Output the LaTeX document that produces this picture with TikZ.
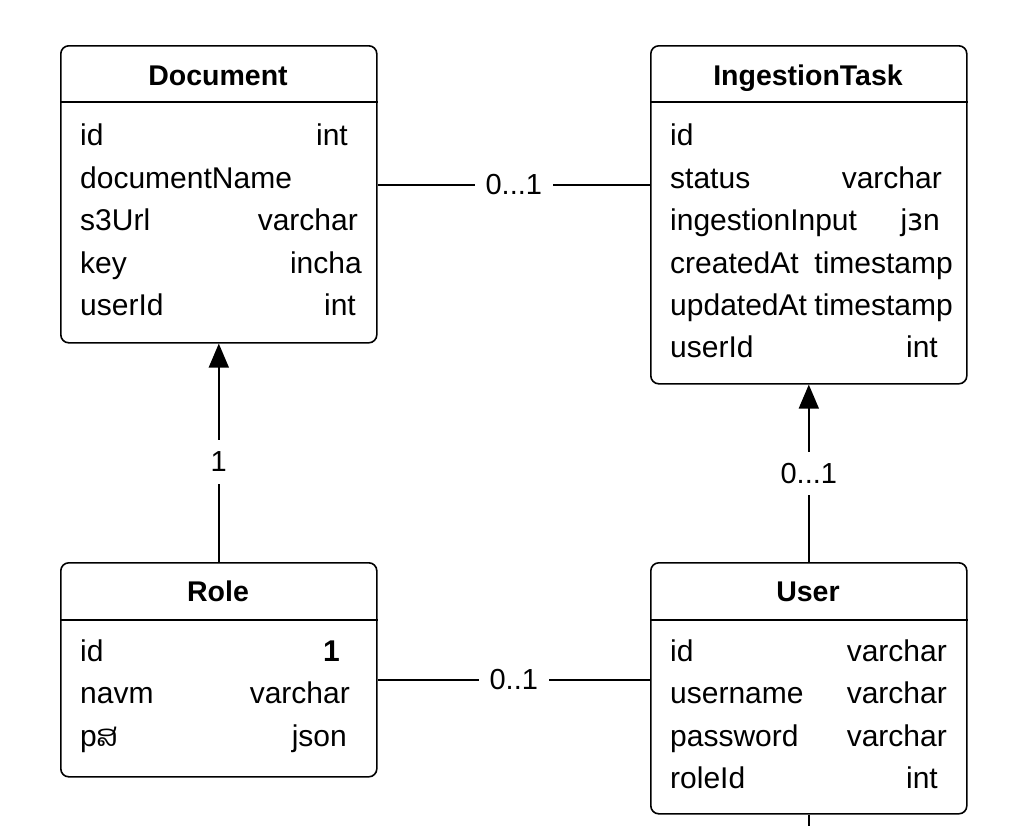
\documentclass[tikz,border=0pt]{standalone}
\usepackage{fontspec}
\setmainfont{Liberation Sans}
\newfontfamily\dejavu{DejaVu Sans}
\newfontfamily\laofont[Script=Lao]{Dhyana}
\usetikzlibrary{arrows.meta}
\tikzset{
  ent/.style={draw, line width=1.6pt, rounded corners=8pt, inner sep=0pt},
  ttl/.style={font=\fontsize{28.5}{34}\selectfont\bfseries, anchor=base, inner sep=0pt},
  fld/.style={font=\fontsize{30}{34}\selectfont, anchor=base west, inner sep=0pt},
  typ/.style={font=\fontsize{30}{34}\selectfont, anchor=base east, inner sep=0pt},
  rel/.style={line width=1.6pt},
  lbl/.style={font=\fontsize{29}{34}\selectfont, fill=white, inner sep=11pt},
  tip/.style={-{Triangle[length=24pt,width=20pt]}}
}
\begin{document}
\begin{tikzpicture}[x=1pt,y=-1pt]
\useasboundingbox[fill=white] (0,0) rectangle (1024,825);
% entities
\node[ent, minimum width=316pt, minimum height=297pt, anchor=north west] (doc) at (60,45) {};
\node[ent, minimum width=316pt, minimum height=338pt, anchor=north west] (ing) at (650,45) {};
\node[ent, minimum width=316pt, minimum height=214pt, anchor=north west] (role) at (60,562) {};
\node[ent, minimum width=316pt, minimum height=251pt, anchor=north west] (user) at (650,562) {};
% header separators
\draw[rel] ([yshift=-57pt]doc.north west) -- ([yshift=-57pt]doc.north east);
\draw[rel] ([yshift=-57pt]ing.north west) -- ([yshift=-57pt]ing.north east);
\draw[rel] ([yshift=-58pt]role.north west) -- ([yshift=-58pt]role.north east);
\draw[rel] ([yshift=-58pt]user.north west) -- ([yshift=-58pt]user.north east);
% titles
\node[ttl] (tdoc) at (218,85) {Document};
\node[ttl] (ting) at (808,85) {IngestionTask};
\node[ttl] (trole) at (218,601) {Role};
\node[ttl] (tuser) at (808,601) {User};
% Document fields
\node[fld] (d1) at (80,145) {id};            \node[typ] (d1t) at (348,145) {int};
\node[fld] (d2) at (80,188) {documentName};
\node[fld] (d3) at (80,230) {s3Url};         \node[typ] (d3t) at (358,230) {varchar};
\node[fld] (d4) at (80,273) {key};           \node[typ] (d4t) at (362,273) {incha};
\node[fld] (d5) at (80,315) {userId};        \node[typ] (d5t) at (356,315) {int};
% IngestionTask fields
\node[fld] (i1) at (670,145) {id};
\node[fld] (i2) at (670,188) {status};         \node[typ] (i2t) at (942,188) {varchar};
\node[fld] (i3) at (670,230) {ingestionInput}; \node[typ] (i3t) at (940,230) {j{\dejavu ɜ}n};
\node[fld] (i4) at (670,273) {createdAt};      \node[typ] (i4t) at (953,273) {timestamp};
\node[fld] (i5) at (670,315) {updatedAt};      \node[typ] (i5t) at (953,315) {timestamp};
\node[fld] (i6) at (670,357) {userId};         \node[typ] (i6t) at (938,357) {int};
% Role fields
\node[fld] (r1) at (80,661) {id};    \node[typ] (r1t) at (340,661) {\bfseries 1};
\node[fld] (r2) at (80,703) {navm};  \node[typ] (r2t) at (350,703) {varchar};
\node[fld] (r3) at (80,746) {p{\laofont ສ}};   \node[typ] (r3t) at (347,746) {json};
% User fields
\node[fld] (u1) at (670,661) {id};       \node[typ] (u1t) at (947,661) {varchar};
\node[fld] (u2) at (670,703) {username}; \node[typ] (u2t) at (947,703) {varchar};
\node[fld] (u3) at (670,746) {password}; \node[typ] (u3t) at (947,746) {varchar};
\node[fld] (u4) at (670,788) {roleId};   \node[typ] (u4t) at (938,788) {int};
% relations
\draw[rel] ([yshift=-140pt]doc.north east) -- node[lbl] (l1) {0...1} ([yshift=-140pt]ing.north west);
\draw[rel] ([yshift=-118pt]role.north east) -- node[lbl] (l2) {0..1} ([yshift=-118pt]user.north west);
\draw[rel, tip] (role.north) -- node[lbl, inner sep=12pt, pos=0.46] (l3) {1} (doc.south);
\draw[rel, tip] (user.north) -- node[lbl] (l4) {0...1} (ing.south);
\coordinate (stub) at ([yshift=-16pt]user.south);
\draw[rel] (user.south) -- (stub);
\end{tikzpicture}
\end{document}
